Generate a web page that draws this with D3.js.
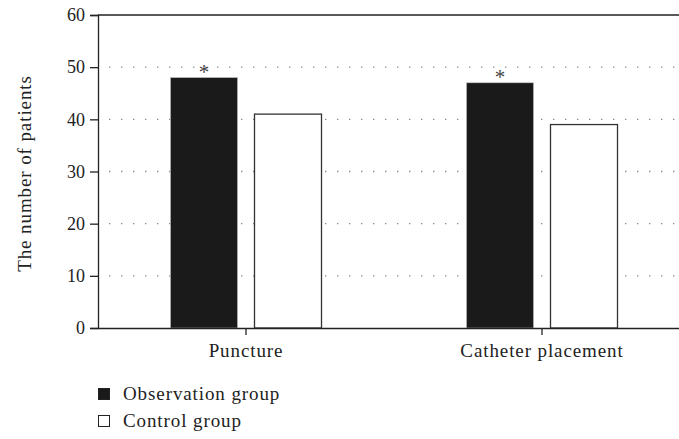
<!DOCTYPE html>
<html>
<head>
<meta charset="utf-8">
<title>Patients</title>
<script src="https://cdn.jsdelivr.net/npm/d3@7"></script>
<style>
  body { margin: 0; background: #fff; }
  svg { display: block; font-family: "Liberation Serif", "DejaVu Serif", serif; }
</style>
</head>
<body>
<script>
// data
var categories = ["Puncture", "Catheter placement"];
var groups = ["Observation group", "Control group"];
var observation = [48, 47];
var control = [41, 39];
var yTicks = [0, 10, 20, 30, 40, 50, 60];
var starred = [true, true];

var width = 679, height = 439;
// plot box (right edge runs past the window, like the source)
var pLeft = 98, pTop = 15, pBottom = 328, pRight = 690;

var svg = d3.select("body").append("svg")
  .attr("width", width)
  .attr("height", height);

var x = d3.scaleBand().domain(categories).range([pLeft, pRight]);
var y = d3.scaleLinear().domain([0, 60]).range([pBottom, pTop]);

var barW = 67, inner = 17;

// dotted grid
svg.append("g").selectAll("line")
  .data(yTicks.filter(function(d) { return d > 0 && d < 60; }))
  .enter().append("line")
  .attr("x1", pLeft + 11).attr("x2", width)
  .attr("y1", function(d) { return y(d); })
  .attr("y2", function(d) { return y(d); })
  .attr("stroke", "#8a8a8a")
  .attr("stroke-width", 1.4)
  .attr("stroke-dasharray", "1.4,10.6");

// bars
var rows = categories.map(function(c, i) {
  return { cat: c, obs: observation[i], ctl: control[i], star: starred[i] };
});

var g = svg.append("g");
g.selectAll("rect.obs").data(rows).enter().append("rect")
  .attr("class", "obs")
  .attr("x", function(d) { return x(d.cat) + x.bandwidth() / 2 - inner / 2 - barW; })
  .attr("y", function(d) { return y(d.obs); })
  .attr("width", barW)
  .attr("height", function(d) { return pBottom - y(d.obs); })
  .attr("fill", "#1a1a1a")
  .attr("stroke", "#bbb")
  .attr("stroke-width", 0.6);

g.selectAll("rect.ctl").data(rows).enter().append("rect")
  .attr("class", "ctl")
  .attr("x", function(d) { return x(d.cat) + x.bandwidth() / 2 + inner / 2; })
  .attr("y", function(d) { return y(d.ctl); })
  .attr("width", barW)
  .attr("height", function(d) { return pBottom - y(d.ctl); })
  .attr("fill", "#fff")
  .attr("stroke", "#333")
  .attr("stroke-width", 1.3);

// significance marks
g.selectAll("text.star").data(rows.filter(function(d) { return d.star; })).enter().append("text")
  .attr("x", function(d) { return x(d.cat) + x.bandwidth() / 2 - inner / 2 - barW / 2; })
  .attr("y", function(d) { return y(d.obs) + 1; })
  .attr("text-anchor", "middle")
  .attr("font-size", 21)
  .attr("fill", "#444")
  .text("*");

// axes
var yAxis = d3.axisLeft(y).tickValues(yTicks).tickSize(8).tickPadding(5);
var ya = svg.append("g").attr("transform", "translate(" + pLeft + ",0)").call(yAxis);
ya.select(".domain").attr("stroke", "#222").attr("stroke-width", 1.3);
ya.selectAll(".tick line").attr("stroke", "#222").attr("stroke-width", 1.3);
ya.selectAll(".tick text").attr("font-size", 18).attr("fill", "#222")
  .attr("font-family", "Liberation Serif, serif");

var xAxis = d3.axisBottom(x).tickSize(7).tickPadding(9).tickSizeOuter(0);
var xa = svg.append("g").attr("transform", "translate(0," + pBottom + ")").call(xAxis);
xa.select(".domain").attr("stroke", "#222").attr("stroke-width", 1.3);
xa.selectAll(".tick line").attr("stroke", "#222").attr("stroke-width", 1.3);
xa.selectAll(".tick text").attr("font-size", 19).attr("fill", "#222")
  .attr("letter-spacing", "0.9px")
  .attr("font-family", "Liberation Serif, serif");

// top border
svg.append("line")
  .attr("x1", pLeft).attr("x2", width)
  .attr("y1", y(60)).attr("y2", y(60))
  .attr("stroke", "#222").attr("stroke-width", 1.3);

// y label
svg.append("text")
  .attr("transform", "translate(31," + ((pTop + pBottom) / 2 + 2) + ") rotate(-90)")
  .attr("text-anchor", "middle")
  .attr("font-size", 19)
  .attr("letter-spacing", "0.9px")
  .attr("fill", "#222")
  .text("The number of patients");

// legend
var lg = svg.append("g").attr("transform", "translate(98,388)");
var item = lg.selectAll("g").data(groups).enter().append("g")
  .attr("transform", function(d, i) { return "translate(0," + (i * 27) + ")"; });
item.append("rect")
  .attr("x", 0.5).attr("y", 0.5)
  .attr("width", 11).attr("height", 11)
  .attr("fill", function(d, i) { return i === 0 ? "#1a1a1a" : "#fff"; })
  .attr("stroke", "#222").attr("stroke-width", 1);
item.append("text")
  .attr("x", 25).attr("y", 12)
  .attr("font-size", 19)
  .attr("letter-spacing", "0.9px")
  .attr("fill", "#222")
  .text(function(d) { return d; });
</script>
</body>
</html>
